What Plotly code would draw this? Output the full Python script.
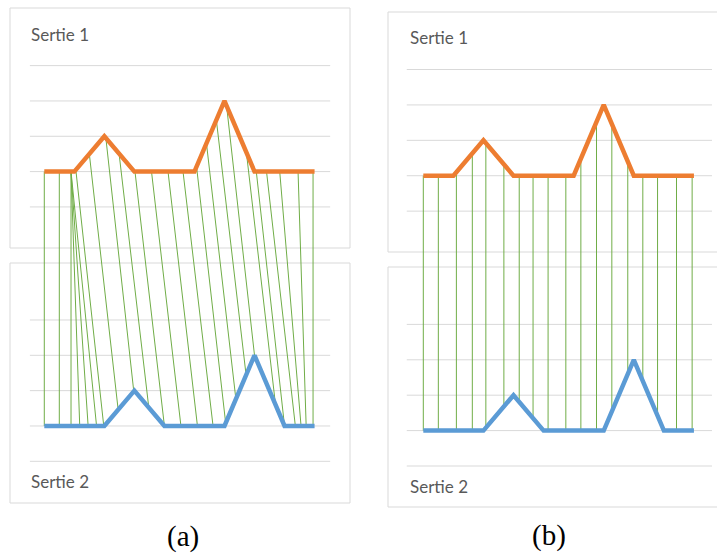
import numpy as np
import plotly.graph_objects as go

# Two short series (same shape, Sertie 2 lagging by one step)
positions = list(range(10))
serie1 = [1, 1, 2, 1, 1, 1, 3, 1, 1, 1]
serie2 = [1, 1, 1, 2, 1, 1, 1, 3, 1, 1]
grid_levels = [0, 1, 2, 3, 4]

# (a) warped alignment: matched positions on Sertie 1 and on Sertie 2
warp_a_s1 = [0.0, 0.5, 0.89, 0.89, 0.89, 0.89, 1.05, 1.5, 2.05, 2.49, 3.02, 3.57,
             4.12, 4.62, 5.07, 5.4, 5.73, 6.07, 6.73, 7.06, 7.4, 7.84, 8.45, 8.95]
warp_a_s2 = [0.0, 0.5, 0.89, 1.18, 1.46, 1.74, 1.98, 2.46, 2.98, 3.48, 4.0, 4.55,
             5.1, 5.62, 6.04, 6.38, 6.72, 7.0, 7.7, 8.0, 8.36, 8.55, 8.72, 8.95]

# (b) point-to-point alignment at the same positions
link_b = [0.0, 0.5, 1.1, 1.63, 2.08, 2.68, 3.19, 3.65, 4.15, 4.74, 5.24, 5.76,
          6.27, 6.8, 7.3, 7.79, 8.42, 8.94]

series_names = ["Sertie 1", "Sertie 2"]
panel_labels = ["(a)", "(b)"]

W, H = 717, 555
OFFSET = 7.2          # vertical shift of the upper chart on the shared axis
ORANGE = "#ED7D31"
BLUE = "#5B9BD5"
GREEN = "#70AD47"
GRID = "#D9D9D9"
BORDER = "#D9D9D9"
TEXT = "#595959"

fig = go.Figure()


def link_trace(xs_top, xs_bot, xa, ya):
    lx, ly = [], []
    for xt, xb in zip(xs_top, xs_bot):
        lx += [xt, xb, None]
        ly += [float(np.interp(xt, positions, serie1)) + OFFSET,
               float(np.interp(xb, positions, serie2)), None]
    return go.Scatter(x=lx, y=ly, mode="lines", xaxis=xa, yaxis=ya,
                      line=dict(color=GREEN, width=1), hoverinfo="skip")


def series_traces(xa, ya):
    top = go.Scatter(x=positions, y=[v + OFFSET for v in serie1], mode="lines",
                     xaxis=xa, yaxis=ya, name=series_names[0],
                     line=dict(color=ORANGE, width=4.5))
    bot = go.Scatter(x=positions, y=serie2, mode="lines",
                     xaxis=xa, yaxis=ya, name=series_names[1],
                     line=dict(color=BLUE, width=4.5))
    return [top, bot]


fig.add_trace(link_trace(warp_a_s1, warp_a_s2, "x", "y"))
for t in series_traces("x", "y"):
    fig.add_trace(t)

fig.add_trace(link_trace(link_b, link_b, "x2", "y2"))
for t in series_traces("x2", "y2"):
    fig.add_trace(t)

shapes = []


def box(x0, y0, x1, y1):
    shapes.append(dict(type="rect", xref="paper", yref="paper", layer="below",
                       x0=x0 / W, x1=x1 / W, y0=1 - y1 / H, y1=1 - y0 / H,
                       line=dict(color=BORDER, width=1), fillcolor="white"))


# chart frames (pixel layout)
box(10, 8, 350, 248)
box(10, 263, 350, 503)
box(388, 12, 730, 252)
box(388, 267, 730, 507)


def grids(xref, yref, gx0, gx1):
    for lv in grid_levels:
        for base in (OFFSET, 0):
            shapes.append(dict(type="line", xref=xref, yref=yref, layer="below",
                               x0=gx0, x1=gx1, y0=lv + base, y1=lv + base,
                               line=dict(color=GRID, width=1)))


grids("x", "y", -0.48, 9.52)
grids("x2", "y2", -0.55, 9.6)

annotations = []


def label(text, px, py, size=17, color=TEXT, family="Lato", anchor="left"):
    annotations.append(dict(text=text, xref="paper", yref="paper",
                            x=px / W, y=1 - py / H, xanchor=anchor, yanchor="middle",
                            showarrow=False,
                            font=dict(family=family, size=size, color=color)))


label(series_names[0], 29, 34)
label(series_names[1], 29, 481)
label(series_names[0], 408, 38)
label(series_names[1], 408, 486)
label(panel_labels[0], 182.5, 536, size=29, color="black",
      family="Liberation Serif", anchor="center")
label(panel_labels[1], 549, 535, size=29, color="black",
      family="Liberation Serif", anchor="center")

fig.update_layout(
    width=W, height=H,
    margin=dict(l=0, r=0, t=0, b=0),
    paper_bgcolor="white", plot_bgcolor="white",
    showlegend=False,
    shapes=shapes, annotations=annotations,
    xaxis=dict(domain=[0, 0.5], range=[-1.475, 10.463], visible=False, fixedrange=True),
    yaxis=dict(domain=[0, 1], range=[-2.652, 13.057], visible=False, fixedrange=True),
    xaxis2=dict(domain=[0.5, 1], range=[-2.155, 9.767], visible=False, fixedrange=True,
                anchor="y2"),
    yaxis2=dict(domain=[0, 1], range=[-2.514, 13.164], visible=False, fixedrange=True,
                anchor="x2"),
)

fig.write_html("out.html")
